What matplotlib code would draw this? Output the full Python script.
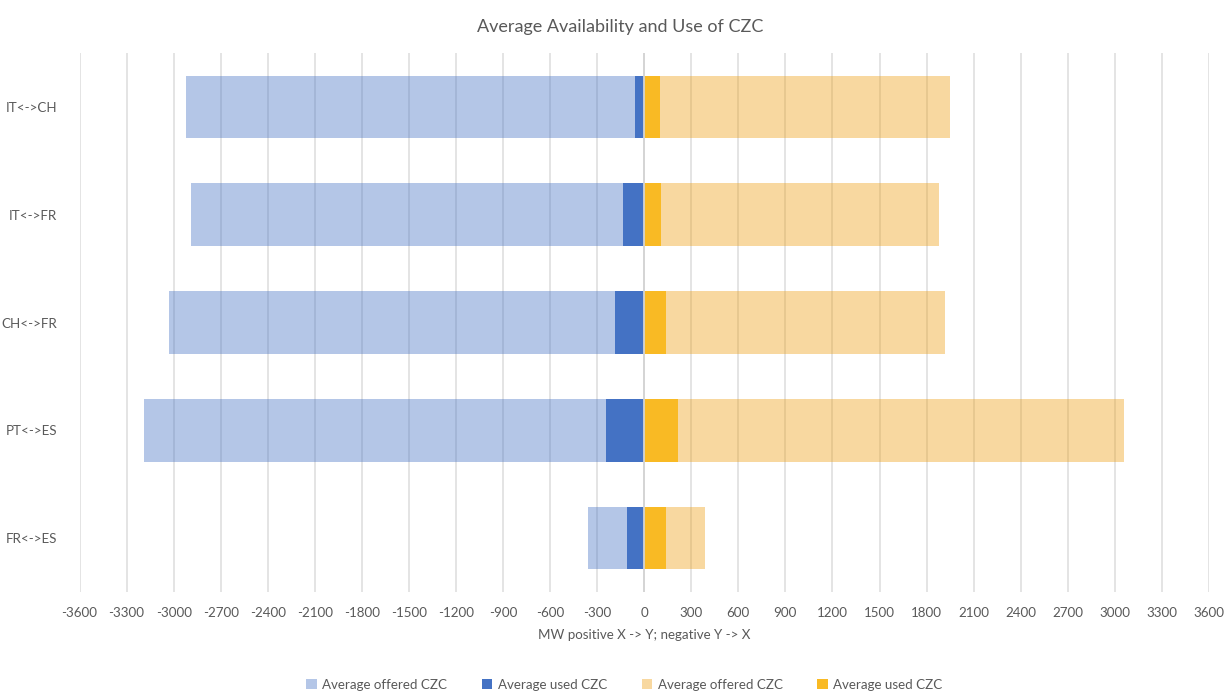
import matplotlib
matplotlib.use("Agg")
import matplotlib.pyplot as plt
import numpy as np
from matplotlib.patches import Patch

plt.rcParams['font.family'] = ['Lato', 'DejaVu Sans']

# Interconnectors, top to bottom
borders = ["IT<->CH", "IT<->FR", "CH<->FR", "PT<->ES", "FR<->ES"]

# Direction Y -> X (drawn as negative MW)
offered_yx = [2920, 2888, 3031, 3191, 357]
used_yx = [61, 138, 187, 244, 110]

# Direction X -> Y (drawn as positive MW)
offered_xy = [1951, 1881, 1917, 3059, 389]
used_xy = [98, 108, 138, 213, 137]

xticks = list(range(-3600, 3601, 300))

text_col = "#595959"
grid_col = "#E2E2E2"
c_off_neg = "#4472C4"
c_used_neg = "#4472C4"
c_off_pos = "#EE9E12"
c_used_pos = "#F9BA24"

fig = plt.figure(figsize=(12.29, 6.93), dpi=100)
ax = fig.add_axes([0.0647, 0.1457, 0.9190, 0.7778])

y = np.arange(len(borders))
h = 0.58

for xv in xticks:
    ax.axvline(xv, color=grid_col, lw=1.3, zorder=0)

ax.barh(y, -np.array(offered_yx), height=h, color=c_off_neg, alpha=0.4, lw=0, zorder=2)
ax.barh(y, np.array(offered_xy), height=h, color=c_off_pos, alpha=0.4, lw=0, zorder=2)
ax.barh(y, -np.array(used_yx), height=h, color=c_used_neg, lw=0, zorder=3)
ax.barh(y, np.array(used_xy), height=h, color=c_used_pos, lw=0, zorder=3)
ax.axvline(0, color="#D4D4D4", lw=1.3, zorder=4)

ax.set_xlim(-3600, 3600)
ax.set_ylim(len(borders) - 0.5, -0.5)
ax.set_xticks(xticks)
ax.set_xticklabels([str(v) for v in xticks])
ax.set_yticks(y)
ax.set_yticklabels(borders)
ax.tick_params(axis="both", length=0, colors=text_col, labelsize=9.6)
ax.tick_params(axis="x", pad=11)
ax.tick_params(axis="y", pad=16)
for s in ax.spines.values():
    s.set_visible(False)

ax.set_xlabel("MW positive X -> Y; negative Y -> X", color=text_col, fontsize=9.6, labelpad=7)
fig.suptitle("Average Availability and Use of CZC", x=0.505, y=0.972, color=text_col, fontsize=13)

handles = [
    Patch(facecolor=c_off_neg, alpha=0.4, lw=0),
    Patch(facecolor=c_used_neg, lw=0),
    Patch(facecolor=c_off_pos, alpha=0.4, lw=0),
    Patch(facecolor=c_used_pos, lw=0),
]
labels = ["Average offered CZC", "Average used CZC", "Average offered CZC", "Average used CZC"]
leg = fig.legend(handles, labels, loc="center", bbox_to_anchor=(0.508, 0.012), ncol=4,
                 frameon=False, fontsize=9.6, handlelength=0.8, handleheight=0.8,
                 handletextpad=0.4, columnspacing=2.6)
for t in leg.get_texts():
    t.set_color(text_col)

fig.savefig("out.png", dpi=100)
